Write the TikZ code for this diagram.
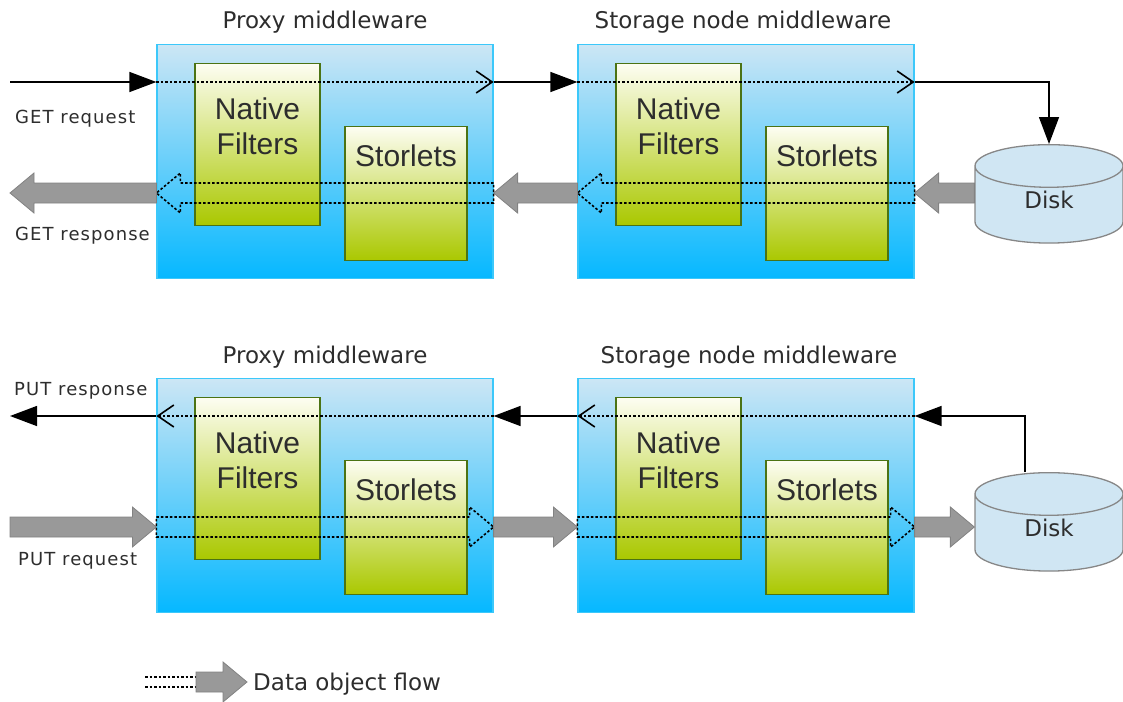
\documentclass[tikz,border=0pt]{standalone}
\usepackage{fontspec}
\setmainfont{DejaVu Sans}
\newfontfamily\boxfont{Liberation Sans}
\usetikzlibrary{arrows.meta,calc,positioning,shapes.geometric}

\definecolor{mwtop}{RGB}{204,230,245}
\definecolor{mwbot}{RGB}{5,184,255}
\definecolor{mwedge}{RGB}{60,200,250}
\definecolor{ftop}{RGB}{253,253,242}
\definecolor{fbot}{RGB}{170,200,0}
\definecolor{fedge}{RGB}{75,115,20}
\definecolor{flowgray}{RGB}{153,153,153}
\definecolor{flowedge}{RGB}{130,130,130}
\definecolor{diskfill}{RGB}{208,230,243}
\definecolor{diskedge}{RGB}{135,135,135}
\definecolor{txt}{RGB}{45,45,45}

% block arrow for the data object flow, from #2 to #3
\newcommand{\flowarrow}[3][flowfill]{%
  \path[#1] let \p1=(#2), \p2=(#3), \n1={(\x2-\x1)/abs(\x2-\x1)} in
    (\x1,\y1+10pt) -- ({\x2-(\n1)*24pt},\y1+10pt) -- ({\x2-(\n1)*24pt},\y1+20pt)
    -- (\x2,\y1) -- ({\x2-(\n1)*24pt},\y1-20pt) -- ({\x2-(\n1)*24pt},\y1-10pt)
    -- (\x1,\y1-10pt) -- cycle;}

\begin{document}
\begin{tikzpicture}[x=1pt,y=-1pt,
  mw/.style={draw=mwedge, line width=1.2pt, top color=mwtop, bottom color=mwbot,
    minimum width=336pt, minimum height=234pt, inner sep=0pt},
  filt/.style={draw=fedge, line width=1.4pt, top color=ftop, bottom color=fbot, inner sep=0pt},
  boxtext/.style={font=\boxfont\fontsize{30}{35}\selectfont, text=txt, align=center, inner sep=0pt},
  title/.style={font=\fontsize{23}{27}\selectfont, text=txt},
  small/.style={font=\fontsize{18}{21}\selectfont\addfontfeature{LetterSpace=6}, text=txt,
    anchor=base west, inner sep=0pt},
  req/.style={line width=1.4pt, -{Triangle[length=27pt,width=20pt]}},
  pass/.style={line width=1.6pt, dash pattern=on 2.5pt off 2pt, -{Straight Barb[length=16pt,width=22pt]}},
  flowfill/.style={fill=flowgray, draw=flowedge, line width=0.8pt},
  flowghost/.style={draw=black, line width=1.6pt, dash pattern=on 2.5pt off 2pt},
  disk/.style={cylinder, shape border rotate=90, aspect=0.76, draw=diskedge, fill=diskfill,
    line width=1.3pt, minimum width=148pt, minimum height=98pt, text depth=16pt,
    font=\fontsize{23}{27}\selectfont, text=txt}]
\useasboundingbox (0,0) rectangle (1123,701);

% middleware boxes, both rows
\foreach \m/\x in {proxy/0, store/421} {
  \foreach \r/\y in {A/0, B/334} {
    \node[mw] (\m\r) at (325+\x,161.5+\y) {};
    \node[filt, minimum width=125pt, minimum height=162pt] (nf\m\r) at (257.5+\x,144.5+\y) {};
    \node[boxtext, below=35pt of nf\m\r.north] (nf\m\r txt) {Native\\Filters};
    \node[filt, minimum width=122pt, minimum height=134pt] (sl\m\r) at (406+\x,193.5+\y) {};
    \node[boxtext, below=19pt of sl\m\r.north] (sl\m\r txt) {Storlets};
  }
}

\node[title] (titleproxyA) at (325,22) {Proxy middleware};
\node[title] (titlestoreA) at (743,22) {Storage node middleware};
\node[title] (titleproxyB) at (325,357) {Proxy middleware};
\node[title] (titlestoreB) at (749,357) {Storage node middleware};

\node[disk] (diskA) at (1049,208) {Disk};
\node[disk] (diskB) at (1049,536) {Disk};

\coordinate (getreq) at (10,82);
\coordinate (getresp) at (10,193);
\coordinate (putresp) at (10,416);
\coordinate (putreq) at (10,527);

\node[small] (getreqtxt) at (15,123) {GET request};
\node[small] (getresptxt) at (15,240) {GET response};
\node[small] (putresptxt) at (14,395) {PUT response};
\node[small] (putreqtxt) at (18,565) {PUT request};

% GET
\draw[req] (getreq) -- (getreq -| proxyA.west);
\draw[pass] (getreq -| proxyA.west) -- (getreq -| proxyA.east);
\draw[req] (getreq -| proxyA.east) -- (getreq -| storeA.west);
\draw[pass] (getreq -| storeA.west) -- (getreq -| storeA.east);
\draw[req] (getreq -| storeA.east) -| (diskA.north);

\flowarrow{diskA.west |- getresp}{storeA.east |- getresp}
\flowarrow[flowghost]{storeA.east |- getresp}{storeA.west |- getresp}
\flowarrow{storeA.west |- getresp}{proxyA.east |- getresp}
\flowarrow[flowghost]{proxyA.east |- getresp}{proxyA.west |- getresp}
\flowarrow{proxyA.west |- getresp}{getresp}

% PUT
\draw[req] ([xshift=-24pt]diskB.north) |- (putresp -| storeB.east);
\draw[pass] (putresp -| storeB.east) -- (putresp -| storeB.west);
\draw[req] (putresp -| storeB.west) -- (putresp -| proxyB.east);
\draw[pass] (putresp -| proxyB.east) -- (putresp -| proxyB.west);
\draw[req] (putresp -| proxyB.west) -- (putresp);

\flowarrow{putreq}{proxyB.west |- putreq}
\flowarrow[flowghost]{proxyB.west |- putreq}{proxyB.east |- putreq}
\flowarrow{proxyB.east |- putreq}{storeB.west |- putreq}
\flowarrow[flowghost]{storeB.west |- putreq}{storeB.east |- putreq}
\flowarrow{storeB.east |- putreq}{diskB.west |- putreq}

% legend
\coordinate (legA) at (145,677);
\coordinate (legB) at (145,687);
\coordinate (legtail) at (196,682);
\coordinate (legtip) at (247,682);
\draw[flowghost] (legA) -- (legA -| legtail);
\draw[flowghost] (legB) -- (legB -| legtail);
\flowarrow{legtail}{legtip}
\node[title, anchor=base west, inner sep=0pt] (legtxt) at (253,690) {Data object flow};

\end{tikzpicture}
\end{document}
